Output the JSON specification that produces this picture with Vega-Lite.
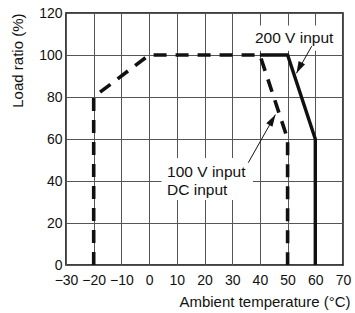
{
  "$schema": "https://vega.github.io/schema/vega-lite/v6.json",
  "width": 277,
  "height": 252,
  "autosize": "none",
  "padding": {"left": 66, "top": 13, "right": 12, "bottom": 48},
  "background": "white",
  "config": {
    "font": "Liberation Sans",
    "view": {"stroke": "black", "strokeWidth": 1.5},
    "axis": {
      "domain": false,
      "ticks": false,
      "grid": true,
      "gridColor": "#555",
      "gridWidth": 1,
      "gridOpacity": 1,
      "labelColor": "#111",
      "titleColor": "#111",
      "labelFont": "Liberation Sans",
      "titleFont": "Liberation Sans",
      "labelFontSize": 14,
      "titleFontSize": 15,
      "titleFontWeight": "normal"
    }
  },
  "datasets": {
    "dashed": [
      {"t": -20, "load": 0, "o": 1},
      {"t": -20, "load": 80, "o": 2},
      {"t": 0, "load": 100, "o": 3},
      {"t": 40, "load": 100, "o": 4},
      {"t": 50, "load": 60, "o": 5},
      {"t": 50, "load": 0, "o": 6}
    ],
    "solid": [
      {"t": 40, "load": 100, "o": 1},
      {"t": 50, "load": 100, "o": 2},
      {"t": 60, "load": 60, "o": 3},
      {"t": 60, "load": 0, "o": 4}
    ],
    "arrows": [
      {"x1": 58.7, "y1": 104.2, "x2": 53.2, "y2": 91.3, "ang": 206.6},
      {"x1": 35.8, "y1": 48.7, "x2": 45.6, "y2": 71.6, "ang": 30.4}
    ],
    "boxes": [
      {"xa": 4.5, "xb": 37.5, "ya": 31, "yb": 51},
      {"xa": 36.5, "xb": 68.5, "ya": 102, "yb": 114}
    ],
    "labels": [
      {"x": 6.5, "y": 44.5, "txt": "100 V input"},
      {"x": 6.5, "y": 35.5, "txt": "DC input"},
      {"x": 38.2, "y": 108.3, "txt": "200 V input"}
    ]
  },
  "encoding": {
    "x": {
      "type": "quantitative",
      "scale": {"domain": [-30, 70], "nice": false, "zero": false},
      "axis": {
        "title": "Ambient temperature (°C)",
        "values": [-30, -20, -10, 0, 10, 20, 30, 40, 50, 60, 70],
        "labelPadding": 8,
        "labelOverlap": false,
        "labelFlush": false,
        "titleAlign": "right",
        "titleX": 284,
        "titleY": 41,
        "titleBaseline": "alphabetic"
      }
    },
    "y": {
      "type": "quantitative",
      "scale": {"domain": [0, 120], "nice": false},
      "axis": {
        "title": "Load ratio (%)",
        "values": [0, 20, 40, 60, 80, 100, 120],
        "labelPadding": 4,
        "labelOverlap": false,
        "labelFlush": false,
        "titleAngle": -90,
        "titleAlign": "right",
        "titleBaseline": "middle",
        "titleX": -49,
        "titleY": 0
      }
    }
  },
  "layer": [
    {
      "data": {"name": "boxes"},
      "mark": {"type": "rect", "color": "white"},
      "encoding": {
        "x": {"field": "xa"},
        "x2": {"field": "xb"},
        "y": {"field": "ya"},
        "y2": {"field": "yb"}
      }
    },
    {
      "data": {"name": "dashed"},
      "mark": {"type": "line", "color": "#111", "strokeWidth": 3.6, "strokeDash": [13, 9], "strokeJoin": "miter", "strokeCap": "butt"},
      "encoding": {
        "x": {"field": "t"},
        "y": {"field": "load"},
        "order": {"field": "o", "type": "quantitative"}
      }
    },
    {
      "data": {"name": "solid"},
      "mark": {"type": "line", "color": "#111", "strokeWidth": 3.4, "strokeJoin": "miter", "strokeCap": "butt"},
      "encoding": {
        "x": {"field": "t"},
        "y": {"field": "load"},
        "order": {"field": "o", "type": "quantitative"}
      }
    },
    {
      "data": {"name": "arrows"},
      "mark": {"type": "rule", "color": "#111", "strokeWidth": 1},
      "encoding": {
        "x": {"field": "x1"},
        "y": {"field": "y1"},
        "x2": {"field": "x2"},
        "y2": {"field": "y2"}
      }
    },
    {
      "data": {"name": "arrows"},
      "mark": {"type": "point", "filled": true, "color": "#111", "opacity": 1, "shape": "M0,0L-0.6,2L0.6,2Z", "size": 144},
      "encoding": {
        "x": {"field": "x2"},
        "y": {"field": "y2"},
        "angle": {"field": "ang", "type": "quantitative", "scale": null}
      }
    },
    {
      "data": {"name": "labels"},
      "mark": {"type": "text", "align": "left", "baseline": "middle", "fontSize": 15.5, "color": "#111", "font": "Liberation Sans"},
      "encoding": {
        "x": {"field": "x"},
        "y": {"field": "y"},
        "text": {"field": "txt"}
      }
    }
  ]
}
